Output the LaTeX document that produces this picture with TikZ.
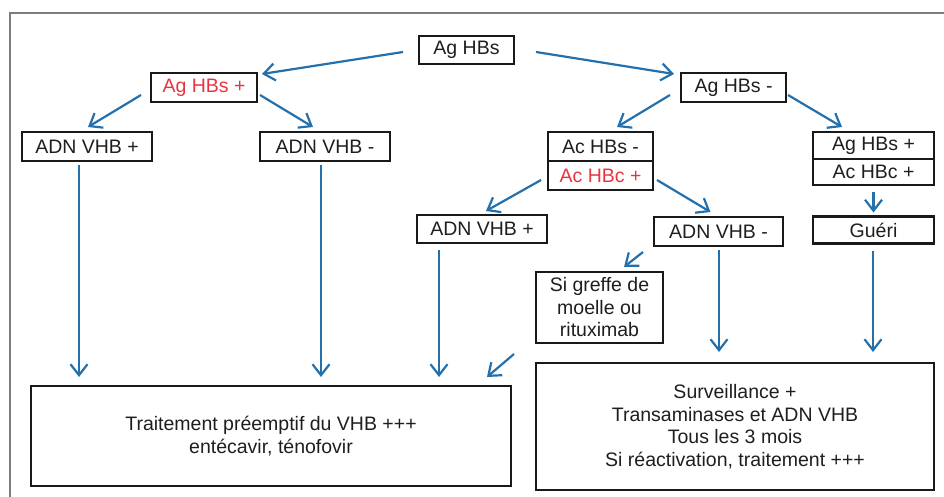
\documentclass[tikz,border=0pt]{standalone}
\usepackage{fontspec}
\setmainfont{Liberation Sans}
\usetikzlibrary{arrows.meta,calc}
\definecolor{arrblue}{RGB}{35,112,172}
\definecolor{txtred}{RGB}{232,52,64}
\definecolor{framegray}{RGB}{125,125,125}
\definecolor{txtdark}{RGB}{30,30,30}
\begin{document}
\begin{tikzpicture}[x=1pt,y=-1pt,
  box/.style={draw=black!90, line width=2.4pt, inner sep=0pt, outer sep=0pt,
    font=\fontsize{19.5}{22.5}\selectfont, text=txtdark, align=center},
  arr/.style={draw=arrblue, line width=2.2pt,
    -{Straight Barb[length=11pt,width=17pt,line width=2.2pt]}}]
\useasboundingbox (0,0) rectangle (944,497);
\draw[framegray, line width=2pt] (10,497) -- (10,13) -- (944,13);

\node[box, minimum width=95pt, minimum height=28pt] (agt) at (466.5,50) {Ag HBs};
\node[box, text=txtred, minimum width=106pt, minimum height=29pt] (agp) at (204,87.5) {Ag HBs +};
\node[box, minimum width=105pt, minimum height=29pt] (agm) at (733.5,87.5) {Ag HBs -};
\node[box, minimum width=130pt, minimum height=29pt] (adnp1) at (87,146.5) {ADN VHB +};
\node[box, minimum width=130pt, minimum height=29pt] (adnm1) at (325,146.5) {ADN VHB -};
\node[box, minimum width=105pt, minimum height=29pt] (acs) at (600.5,146.5) {Ac HBs -};
\node[box, text=txtred, minimum width=105pt, minimum height=29pt] (acc) at (600.5,175.5) {Ac HBc +};
\node[box, minimum width=121pt, minimum height=27pt] (agr) at (873.5,145.5) {Ag HBs +};
\node[box, minimum width=121pt, minimum height=26pt] (acr) at (873.5,172) {Ac HBc +};
\node[box, minimum width=121pt, minimum height=27pt] (gueri) at (873.5,230) {Guéri};
\node[box, minimum width=130pt, minimum height=28pt] (adnp2) at (482,229) {ADN VHB +};
\node[box, minimum width=129pt, minimum height=29pt] (adnm2) at (718.5,231.5) {ADN VHB -};
\node[box, minimum width=127pt, minimum height=71pt] (greffe) at (599.5,307.5) {Si greffe de\\moelle ou\\rituximab};
\node[box, minimum width=480pt, minimum height=100pt] (trt) at (271,436) {Traitement préemptif du VHB +++\\entécavir, ténofovir};
\node[box, minimum width=398pt, minimum height=127pt] (surv) at (735,426.5) {Surveillance +\\Transaminases et ADN VHB\\Tous les 3 mois\\Si réactivation, traitement +++};

\draw[arr] ($(agt.west)+(-16,2)$) -- ($(agp.north east)+(5,1)$);
\draw[arr] ($(agt.east)+(22,2)$) -- ($(agm.north west)+(-7,1)$);
\draw[arr] ($(agp.west)+(-10,7.5)$) -- ($(adnp1.north)+(1,-5)$);
\draw[arr] ($(agp.east)+(3,7.5)$) -- ($(adnm1.north)+(-12,-5)$);
\draw[arr] ($(agm.west)+(-11,7.5)$) -- ($(acs.north)+(16.5,-5)$);
\draw[arr] ($(agm.east)+(2,7.5)$) -- ($(agr.north)+(-31.5,-5)$);
\draw[arr] ($(acc.west)+(-7,4.5)$) -- ($(adnp2.north)+(4,-4)$);
\draw[arr] ($(acc.east)+(4,4.5)$) -- ($(adnm2.north)+(-8,-5)$);
\draw[arr] ($(acr.south)+(0,7)$) -- ($(gueri.north)+(0,-4)$);
\draw[arr] ($(adnp1.south)+(-8,4)$) -- ($(adnp1.south |- trt.north)+(-8,-9)$);
\draw[arr] ($(adnm1.south)+(-4,4)$) -- ($(adnm1.south |- trt.north)+(-4,-9)$);
\draw[arr] ($(adnp2.south)+(-43,7)$) -- ($(adnp2.south |- trt.north)+(-43,-9)$);
\draw[arr] ($(adnm2.south)+(0.5,4)$) -- ($(adnm2.south |- surv.north)+(0.5,-11)$);
\draw[arr] ($(gueri.south)+(-0.5,7)$) -- ($(gueri.south |- surv.north)+(-0.5,-11)$);
\draw[arr] ($(adnm2.south west)+(-11,6)$) -- ($(greffe.north)+(24.5,-5)$);
\draw[arr] ($(greffe.south west)+(-22,11)$) -- ($(trt.north east)+(-24,-9)$);
\end{tikzpicture}
\end{document}
